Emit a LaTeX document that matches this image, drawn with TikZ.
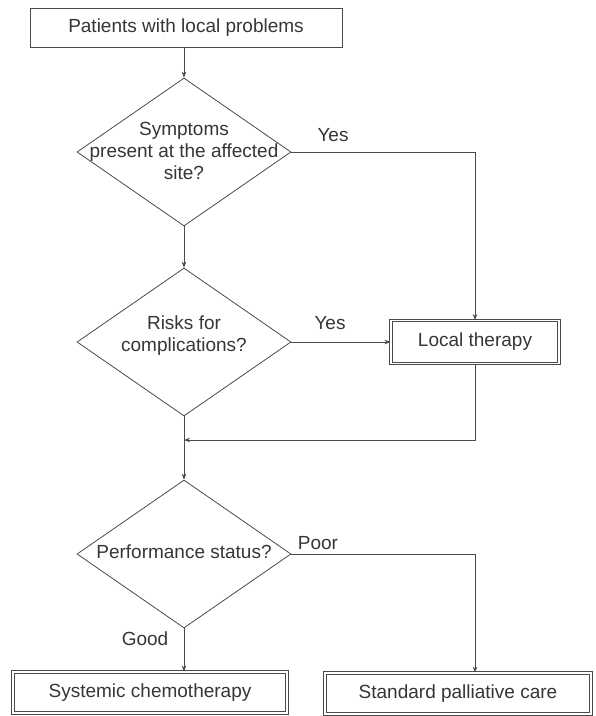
\documentclass[tikz,border=0pt]{standalone}
\usepackage{fontspec}
\setmainfont{Liberation Sans}
\usetikzlibrary{shapes.geometric,arrows.meta}
\definecolor{ink}{HTML}{363636}
\definecolor{linec}{HTML}{4A4A4A}
\begin{document}
\begin{tikzpicture}[x=1pt,y=-1pt,
  every node/.style={font=\fontsize{19}{22}\selectfont, text=ink},
  box/.style={draw=linec, line width=0.8pt, rectangle, inner sep=0pt},
  dbox/.style={draw=linec, line width=0.9pt, double, double distance=1.8pt, rectangle, inner sep=0pt},
  dia/.style={draw=linec, line width=0.8pt, diamond, minimum width=214pt, minimum height=148pt, inner sep=0pt},
  conn/.style={draw=linec, line width=0.7pt},
  arr/.style={conn, -{Stealth[length=6pt,width=4.5pt]}},
  lab/.style={inner sep=0pt}]
\fill[white] (0,0) rectangle (596,716);
\useasboundingbox (0,0) rectangle (596,716);

\node[box, minimum width=312pt, minimum height=39pt] (top) at (186,27.5) {Patients with local problems};
\node[dia] (d1) at (184,152) {};
\node[align=center] (t1) at (184,151) {Symptoms\\present at the affected\\site?};
\node[dia] (d2) at (184,342) {};
\node[align=center] (t2) at (184,336) {Risks for\\complications?};
\node[dia] (d3) at (184,554) {};
\node (t3) at (184,552) {Performance status?};
\node[dbox, minimum width=168pt, minimum height=43pt] (lt) at (475,342) {Local therapy};
\node[dbox, minimum width=274pt, minimum height=41pt] (sc) at (150,692.5) {Systemic chemotherapy};
\node[dbox, minimum width=266pt, minimum height=41pt] (sp) at (458,693.5) {Standard palliative care};

\coordinate (c1) at (475,152);
\coordinate (c2) at (475,440);
\coordinate (c3) at (184,440);
\coordinate (c4) at (475,554);

\draw[arr] (top.south -| d1.north) -- (d1.north);
\draw[arr] (d1.east) -- (c1) -- (lt.north);
\draw[arr] (d1.south) -- (d2.north);
\draw[arr] (d2.east) -- (lt.west);
\draw[arr] (lt.south) -- (c2) -- (c3);
\draw[arr] (d2.south) -- (d3.north);
\draw[arr] (d3.south) -- (d3.south |- sc.north);
\draw[arr] (d3.east) -- (c4) -- (c4 |- sp.north);

\node[lab] (y1) at (333,135) {Yes};
\node[lab] (y2) at (330,323) {Yes};
\node[lab] (gd) at (145,639) {Good};
\node[lab] (pr) at (318,543) {Poor};
\end{tikzpicture}
\end{document}
